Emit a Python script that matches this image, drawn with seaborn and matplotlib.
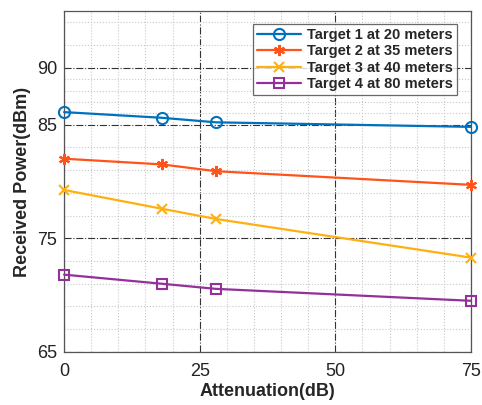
import pandas as pd
import matplotlib
matplotlib.use('Agg')
import matplotlib.pyplot as plt
import seaborn as sns
from matplotlib.ticker import FixedLocator

# Data
attenuation = [0, 18, 28, 75]
target1 = [86.1, 85.6, 85.2, 84.8]
target2 = [82.0, 81.5, 80.9, 79.7]
target3 = [79.25, 77.6, 76.7, 73.3]
target4 = [71.8, 71.0, 70.55, 69.5]
labels = ['Target 1 at 20 meters', 'Target 2 at 35 meters',
          'Target 3 at 40 meters', 'Target 4 at 80 meters']

colors = ['#0072BD', '#FF5319', '#FFB011', '#93309A']
markers = ['o', (6, 2, 0), 'x', 's']
msizes = [8, 8, 6.5, 7.5]

sns.set_style('white')
plt.rcParams['font.family'] = ['Liberation Sans', 'DejaVu Sans']

fig = plt.figure(figsize=(4.82, 4.05), dpi=100)
ax = fig.add_axes([0.133, 0.131, 0.844, 0.842])

for y, lab, c, m, ms in zip([target1, target2, target3, target4], labels,
                            colors, markers, msizes):
    df = pd.DataFrame({'att': attenuation, 'pw': y})
    sns.lineplot(data=df, x='att', y='pw', ax=ax, color=c, marker=m,
                 markersize=ms, markerfacecolor='none', markeredgecolor=c,
                 markeredgewidth=1.5, linewidth=1.6, label=lab, clip_on=False,
                 zorder=3)

ax.set_xlim(0, 75)
ax.set_ylim(65, 95)
ax.set_xticks([0, 25, 50, 75])
ax.set_yticks([65, 75, 85, 90])
ax.xaxis.set_minor_locator(FixedLocator([5, 10, 15, 20, 30, 35, 40, 45, 55, 60, 65, 70]))
ax.yaxis.set_minor_locator(FixedLocator([67, 69, 71, 73, 77, 79, 81, 83,
                                         86, 87, 88, 89, 92, 94]))
ax.grid(which='major', color='#333333', linestyle='-.', linewidth=0.8)
ax.grid(which='minor', color='#c8c8c8', linestyle=':', linewidth=0.8)
ax.set_axisbelow(True)
ax.tick_params(which='both', length=0, labelsize=13, colors='#222222')
ax.tick_params(axis='x', pad=8)
ax.tick_params(axis='y', pad=5)
for s in ax.spines.values():
    s.set_color('#555555')
    s.set_linewidth(0.9)

ax.set_xlabel('Attenuation(dB)', fontsize=13, fontweight='bold', labelpad=2)
ax.set_ylabel('Received Power(dBm)', fontsize=13, fontweight='bold', labelpad=4)

leg = ax.legend(loc='upper right', bbox_to_anchor=(0.966, 0.962), borderaxespad=0,
                prop={'weight': 'bold', 'size': 10.5}, frameon=True, fancybox=False,
                handlelength=3.0, borderpad=0.3, labelspacing=0.15, handletextpad=0.4)
leg.get_frame().set_edgecolor('#444444')
leg.get_frame().set_linewidth(0.9)
leg.set_zorder(5)

fig.savefig('out.png', dpi=100)
